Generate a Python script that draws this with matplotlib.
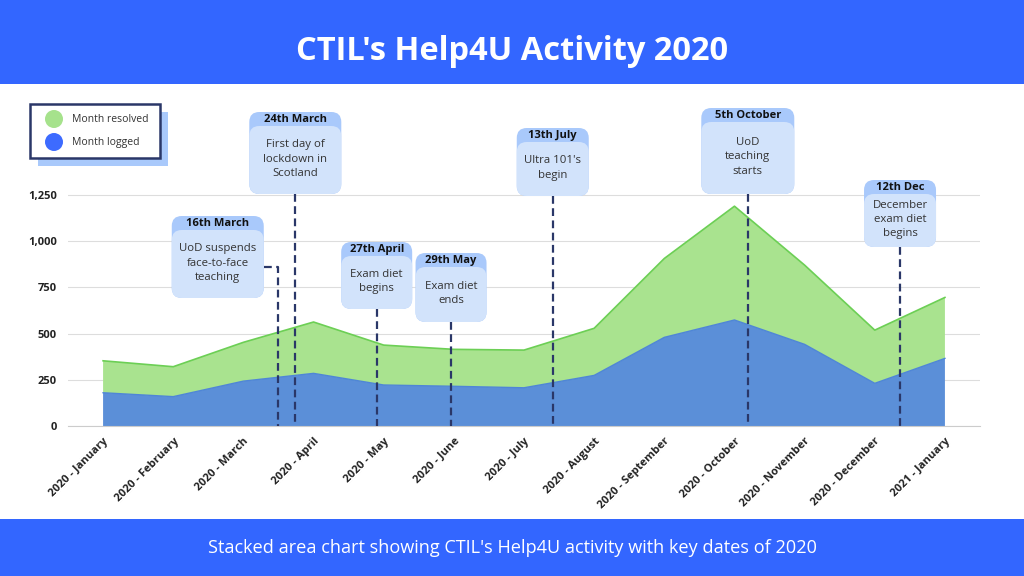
import numpy as np
import matplotlib
matplotlib.use('Agg')
import matplotlib.pyplot as plt
from matplotlib.patches import FancyBboxPatch, Rectangle, Circle
from matplotlib.transforms import Affine2D

plt.rcParams['font.family'] = ['Open Sans', 'DejaVu Sans']

# data
months = ['2020 - January', '2020 - February', '2020 - March', '2020 - April',
          '2020 - May', '2020 - June', '2020 - July', '2020 - August',
          '2020 - September', '2020 - October', '2020 - November',
          '2020 - December', '2021 - January']
logged = [180, 159, 243, 285, 222, 215, 207, 274, 480, 574, 442, 231, 366]
resolved = [173, 162, 210, 278, 216, 200, 204, 255, 427, 616, 429, 288, 330]

event_titles = ['16th March', '24th March', '27th April', '29th May',
                '13th July', '5th October', '12th Dec']
event_texts = ['UoD suspends\nface-to-face\nteaching',
               'First day of\nlockdown in\nScotland',
               'Exam diet\nbegins',
               'Exam diet\nends',
               "Ultra 101's\nbegin",
               'UoD\nteaching\nstarts',
               'December\nexam diet\nbegins']
# position along the month axis (0 = Jan 2020)
event_x = [2.49, 2.74, 3.90, 4.96, 6.41, 9.19, 11.36]

# box layout in pixels (top, width, height, horizontal shift from the line)
box_top = [216, 112, 242, 253, 128, 108, 180]
box_w = [92, 92, 71, 71, 72, 93, 72]
box_h = [82, 82, 67, 69, 68, 86, 67]
box_shift = [-60, 0, 0, 0, 0, 0, 0]

BLUE = '#3366ff'
NAVY = '#2a3768'
HEAD = '#a9c9fb'
BODY = '#d2e3fb'

W, H = 1024, 576
fig = plt.figure(figsize=(W / 100, H / 100), dpi=100)
fig.patch.set_facecolor('white')
# pixel coordinates with origin at top-left
PX = Affine2D().scale(1 / W, -1 / H).translate(0, 1) + fig.transFigure

# header and footer bands
fig.add_artist(Rectangle((0, 0), W, 84, transform=PX, color=BLUE, lw=0))
fig.add_artist(Rectangle((0, 519), W, 57, transform=PX, color=BLUE, lw=0))
fig.text(0.5, 1 - 51 / H, "CTIL's Help4U Activity 2020", ha='center', va='center',
         color='white', fontsize=23.5, fontweight='bold')
fig.text(0.5, 1 - 548 / H, "Stacked area chart showing CTIL's Help4U activity with key dates of 2020",
         ha='center', va='center', color='white', fontsize=13.1)

# main chart
ax = fig.add_axes([68 / W, 1 - 426 / H, 912 / W, 314 / H])
x = np.arange(len(months))
total = np.array(logged) + np.array(resolved)
ax.stackplot(x, logged, resolved, colors=['#5b8fd8', '#a9e38f'], lw=0, zorder=2)
ax.plot(x, logged, color='#4f86d6', lw=1, zorder=3)
ax.plot(x, total, color='#6ccf55', lw=1.2, zorder=3)

ax.set_xlim(-0.5, 12.5)
ax.set_ylim(0, 1700)
ax.set_yticks([0, 250, 500, 750, 1000, 1250])
ax.set_yticklabels([f'{v:,}' for v in [0, 250, 500, 750, 1000, 1250]],
                   fontsize=8, fontweight='bold', color='#222222')
ax.set_xticks(x)
ax.set_xticklabels(months, rotation=45, ha='right', rotation_mode='anchor',
                   fontsize=8, fontweight='bold', color='#222222')
ax.tick_params(axis='both', length=0)
ax.tick_params(axis='y', pad=8)
ax.tick_params(axis='x', pad=7)
ax.grid(axis='y', color='#dddddd', lw=0.8, zorder=0)
ax.set_axisbelow(True)
for s in ['left', 'right', 'top']:
    ax.spines[s].set_visible(False)
ax.spines['bottom'].set_color('#cccccc')
ax.patch.set_alpha(0)

# key date annotations
fig.canvas.draw()
for i in range(len(event_titles)):
    lx, ly = ax.transData.transform((event_x[i], 0))
    line_x = lx
    zero_y = H - ly
    cx = line_x + box_shift[i]
    left = cx - box_w[i] / 2
    top = box_top[i]
    bottom = top + box_h[i]
    if box_shift[i] != 0:
        ey = top + 14 + (box_h[i] - 14) / 2 + 3
        xs = [left + box_w[i], line_x, line_x]
        ys = [ey, ey, zero_y]
    else:
        xs = [line_x, line_x]
        ys = [bottom, zero_y]
    fig.add_artist(plt.Line2D(xs, ys, transform=PX, color=NAVY, lw=1.6,
                              dashes=(3.5, 2), zorder=5))
    fig.add_artist(FancyBboxPatch((left, top), box_w[i], box_h[i],
                                  boxstyle='round,pad=0,rounding_size=10',
                                  transform=PX, fc=HEAD, ec='none', zorder=6))
    fig.add_artist(FancyBboxPatch((left, top + 14), box_w[i], box_h[i] - 14,
                                  boxstyle='round,pad=0,rounding_size=10',
                                  transform=PX, fc=BODY, ec='none', zorder=7))
    fig.text(cx / W, 1 - (top + 7.5) / H, event_titles[i], ha='center', va='center',
             fontsize=8, fontweight='bold', color='#111111', zorder=8)
    fig.text(cx / W, 1 - (top + 14 + (box_h[i] - 14) / 2 - 1) / H, event_texts[i],
             ha='center', va='center', fontsize=8.2, color='#333333',
             linespacing=1.4, zorder=8)

# legend
fig.add_artist(Rectangle((38, 112), 130, 54, transform=PX, fc=HEAD, ec='none'))
fig.add_artist(Rectangle((30, 104), 130, 54, transform=PX, fc='white', ec=NAVY, lw=1.8))
fig.add_artist(Circle((54, 119), 9, transform=PX, fc='#a6e28c', ec='none'))
fig.add_artist(Circle((54, 142), 9, transform=PX, fc='#3d6bff', ec='none'))
fig.text(72 / W, 1 - 119 / H, 'Month resolved', va='center', fontsize=7.5, color='#333333')
fig.text(72 / W, 1 - 142 / H, 'Month logged', va='center', fontsize=7.5, color='#333333')

fig.savefig('out.png', dpi=100)
